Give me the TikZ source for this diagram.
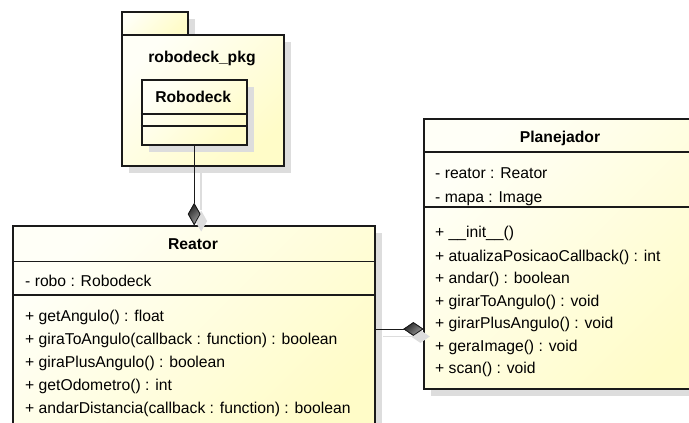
\documentclass[tikz,border=0pt]{standalone}
\usepackage{fontspec}
\setmainfont{Liberation Sans}
\usetikzlibrary{calc,shadows,shapes.geometric}

\definecolor{umllight}{HTML}{FFFFF7}
\definecolor{umldark}{HTML}{FFFCC8}
\definecolor{umlline}{HTML}{1A1A1A}
\definecolor{umlshadow}{HTML}{DDDDDD}

\tikzset{
  umlfill/.style={top color=umllight, bottom color=umldark, shading angle=45},
  umlbox/.style={rectangle, draw=umlline, line width=2pt, umlfill, inner sep=0pt,
    anchor=north west,
    general shadow={fill=umlshadow, shadow xshift=7pt, shadow yshift=-7pt}},
  sepline/.style={draw=umlline, line width=1.3pt},
  member/.style={anchor=west, inner sep=0pt, text height=11pt, text depth=0pt,
    font=\fontsize{15.7}{18}\selectfont},
  classname/.style={anchor=center, inner sep=0pt, text height=11pt, text depth=0pt,
    font=\fontsize{15.7}{18}\selectfont\bfseries},
  connector/.style={draw=umlline, line width=1pt},
  connshadow/.style={draw=umlshadow, line width=1.5pt},
  compdiamond/.style={diamond, draw=umlline, line width=0.8pt, inner sep=0pt,
    top color=black!85, bottom color=black!40, shading angle=45},
  diamshadow/.style={diamond, fill=umlshadow, inner sep=0pt},
}

\begin{document}
\begin{tikzpicture}[x=1pt, y=-1pt]
  \fill[white] (0,0) rectangle (689,423);
  \useasboundingbox (0,0) rectangle (689,423);

  % package robodeck_pkg: tab and body
  \node[umlbox, minimum width=66pt, minimum height=23pt] (pkgtab) at (120.5,10.5) {};
  \node[umlbox, minimum width=162.5pt, minimum height=131.5pt] (pkg) at (120.5,33.5) {};
  \node[classname] (pkglabel) at (202,57) {robodeck\_pkg};

  % class Robodeck inside the package
  \node[umlbox, minimum width=105pt, minimum height=65pt] (robodeck) at (140.7,79) {};
  \draw[sepline] ($(robodeck.north west)+(0,35)$) -- ($(robodeck.north east)+(0,35)$);
  \draw[sepline] ($(robodeck.north west)+(0,47)$) -- ($(robodeck.north east)+(0,47)$);
  \node[classname] (robodeckname) at (193.2,97) {Robodeck};

  % class Reator (runs past the bottom edge)
  \node[umlbox, minimum width=362pt, minimum height=215pt] (reator) at (12,225) {};
  \draw[sepline] ($(reator.north west)+(0,36.7)$) -- ($(reator.north east)+(0,36.7)$);
  \draw[sepline] ($(reator.north west)+(0,70)$) -- ($(reator.north east)+(0,70)$);
  \node[classname] (reatorname) at (193,244) {Reator};
  \node[member] (ra1) at (25,280.7) {- robo : Robodeck};
  \node[member] (rm1) at (25,316) {+ getAngulo() : float};
  \node[member] (rm2) at (25,339) {+ giraToAngulo(callback : function) : boolean};
  \node[member] (rm3) at (25,362) {+ giraPlusAngulo() : boolean};
  \node[member] (rm4) at (25,384.5) {+ getOdometro() : int};
  \node[member] (rm5) at (25,407.5) {+ andarDistancia(callback : function) : boolean};

  % class Planejador (runs past the right edge)
  \node[umlbox, minimum width=300pt, minimum height=270pt] (plan) at (423.3,118.3) {};
  \draw[sepline] ($(plan.north west)+(0,33.7)$) -- ($(plan.north east)+(0,33.7)$);
  \draw[sepline] ($(plan.north west)+(0,88.7)$) -- ($(plan.north east)+(0,88.7)$);
  \node[classname] (planname) at (560,137) {Planejador};
  \node[member] (pa1) at (435,173) {- reator : Reator};
  \node[member] (pa2) at (435,197) {- mapa : Image};
  \node[member] (pm1) at (435,232) {+ \_\_init\_\_()};
  \node[member] (pm2) at (435,255.5) {+ atualizaPosicaoCallback() : int};
  \node[member] (pm3) at (435,278) {+ andar() : boolean};
  \node[member] (pm4) at (435,300.5) {+ girarToAngulo() : void};
  \node[member] (pm5) at (435,323) {+ girarPlusAngulo() : void};
  \node[member] (pm6) at (435,345.5) {+ geraImage() : void};
  \node[member] (pm7) at (435,368) {+ scan() : void};

  % composition: Robodeck -> Reator
  \node[compdiamond, minimum width=12pt, minimum height=21pt, anchor=south]
    (d1) at (reator.north -| robodeck.south) {};
  \draw[connshadow] ($(pkg.south -| robodeck.south)+(7,2)$) -- ($(d1.north)+(7,7)$);
  \node[diamshadow, minimum width=12pt, minimum height=21pt] at ($(d1.center)+(7,7)$) {};
  \node[compdiamond, minimum width=12pt, minimum height=21pt, anchor=south]
    at (reator.north -| robodeck.south) {};
  \draw[connector] (robodeck.south) -- (d1.north);

  % composition: Reator -> Planejador
  \node[compdiamond, minimum width=19pt, minimum height=13pt, anchor=east]
    (d2) at (plan.west |- 0,329) {};
  \draw[connshadow] ($(reator.east |- d2)+(7,7.5)$) -- ($(d2.west)+(7,7.5)$);
  \node[diamshadow, minimum width=19pt, minimum height=13pt] at ($(d2.center)+(7,7.5)$) {};
  \node[compdiamond, minimum width=19pt, minimum height=13pt, anchor=east]
    at (plan.west |- 0,329) {};
  \draw[connector] (reator.east |- d2) -- (d2.west);
\end{tikzpicture}
\end{document}
